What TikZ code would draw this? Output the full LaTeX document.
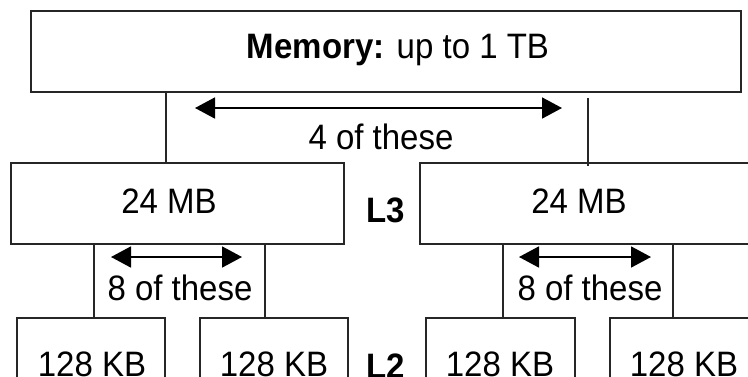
\documentclass[tikz,border=0pt]{standalone}
\usepackage{fontspec}
\setmainfont{Liberation Sans}
\usetikzlibrary{arrows.meta}
\newcommand\stretchtxt[1]{\scalebox{1}[1.07]{#1}}
\begin{document}
\begin{tikzpicture}[x=1pt,y=-1pt,
  box/.style={draw=black!85,line width=1.6pt,minimum height=81pt,inner sep=0pt},
  lbl/.style={font=\fontsize{33}{38}\selectfont,inner sep=0pt},
  conn/.style={draw=black!85,line width=1.4pt},
  span/.style={draw=black,line width=1.8pt,{Triangle[length=20pt,width=21pt]}-{Triangle[length=20pt,width=21pt]}}]
\useasboundingbox (0,0) rectangle (748,376);
\clip (0,0) rectangle (748,376);
% boxes
\node[box,minimum width=710pt] (mem) at (386,51.5) {};
\node[box,minimum width=333pt] (l3a) at (177.5,203.5) {};
\node[box,minimum width=334pt] (l3b) at (587,203.5) {};
\node[box,minimum width=148pt,minimum height=84pt] (l2a) at (91,360) {};
\node[box,minimum width=148pt,minimum height=84pt] (l2b) at (274,360) {};
\node[box,minimum width=149pt,minimum height=84pt] (l2c) at (500.5,360) {};
\node[box,minimum width=148pt,minimum height=84pt] (l2d) at (684,360) {};
% texts
\node[lbl] (memt) at (398,50) {\stretchtxt{\textbf{Memory:} up to 1 TB}};
\node[lbl] (l3at) at (169,201.5) {\stretchtxt{24 MB}};
\node[lbl] (l3bt) at (579,201.5) {\stretchtxt{24 MB}};
\node[lbl] (l2at) at (92,364) {\stretchtxt{128 KB}};
\node[lbl] (l2bt) at (274,364) {\stretchtxt{128 KB}};
\node[lbl] (l2ct) at (500,364) {\stretchtxt{128 KB}};
\node[lbl] (l2dt) at (684,364) {\stretchtxt{128 KB}};
\node[lbl,font=\fontsize{33}{38}\selectfont\bfseries] (L3) at (386,210) {\stretchtxt{L3}};
\node[lbl,font=\fontsize{33}{38}\selectfont\bfseries] (L2) at (386,366) {\stretchtxt{L2}};
\node[lbl] (four) at (381,137) {\stretchtxt{4 of these}};
\node[lbl] (eighta) at (180,288) {\stretchtxt{8 of these}};
\node[lbl] (eightb) at (590,288) {\stretchtxt{8 of these}};
% connector x positions
\coordinate (xa) at (166,0);
\coordinate (xb) at (588,0);
\coordinate (xc) at (94,0);
\coordinate (xd) at (265,0);
\coordinate (xe) at (503,0);
\coordinate (xf) at (673,0);
% connectors
\draw[conn] (mem.south -| xa) -- (l3a.north -| xa);
\draw[conn] ([yshift=-5pt]mem.south -| xb) -- ([yshift=-4pt]l3b.north -| xb);
\draw[conn] (l3a.south -| xc) -- (l2a.north -| xc);
\draw[conn] (l3a.south -| xd) -- (l2b.north -| xd);
\draw[conn] (l3b.south -| xe) -- (l2c.north -| xe);
\draw[conn] (l3b.south -| xf) -- (l2d.north -| xf);
% span arrows
\coordinate (a1) at (195,108); \coordinate (a2) at (562,108);
\coordinate (b1) at (111,257); \coordinate (b2) at (242,257);
\coordinate (c1) at (519,257); \coordinate (c2) at (651,257);
\draw[span] (a1) -- (a2);
\draw[span] (b1) -- (b2);
\draw[span] (c1) -- (c2);
\end{tikzpicture}
\end{document}
